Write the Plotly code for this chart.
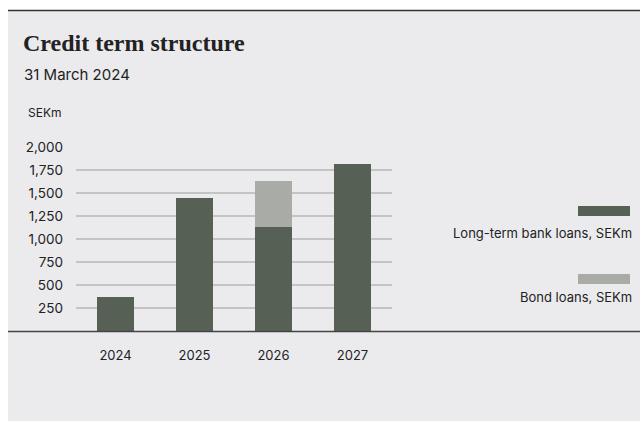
import plotly.graph_objects as go

years = ["2024", "2025", "2026", "2027"]
bank_loans = [375, 1450, 1135, 1820]
bond_loans = [0, 0, 500, 0]
series_names = ["Long-term bank loans, SEKm", "Bond loans, SEKm"]
y_ticks = [250, 500, 750, 1000, 1250, 1500, 1750, 2000]

W, H = 640, 421
DARK = "#566055"
LIGHT = "#a9aba7"
BG = "#ebebee"
FONT = "Inter, Roboto, sans-serif"

def px(x):
    return x / W

def py(y):
    return 1 - y / H

fig = go.Figure()
fig.add_trace(go.Bar(x=years, y=bank_loans, name=series_names[0], marker_color=DARK,
                     marker_line_width=0))
fig.add_trace(go.Bar(x=years, y=bond_loans, name=series_names[1], marker_color=LIGHT,
                     marker_line_width=0))

shapes = [
    dict(type="rect", xref="paper", yref="paper", x0=px(8), x1=1.0, y0=0, y1=py(10),
         fillcolor=BG, line_width=0, layer="below"),
    dict(type="line", xref="paper", yref="paper", x0=px(8), x1=1.0, y0=py(10.5), y1=py(10.5),
         line=dict(color="#333333", width=1.5)),
    dict(type="line", xref="paper", yref="paper", x0=px(8), x1=1.0, y0=py(331.5), y1=py(331.5),
         line=dict(color="#444444", width=1.5)),
    dict(type="rect", xref="paper", yref="paper", x0=px(578), x1=px(630), y0=py(216), y1=py(206),
         fillcolor=DARK, line_width=0),
    dict(type="rect", xref="paper", yref="paper", x0=px(578), x1=px(630), y0=py(284), y1=py(274),
         fillcolor=LIGHT, line_width=0),
]

annotations = [
    dict(text="<b>Credit term structure</b>", x=px(21), y=py(43), xref="paper", yref="paper",
         xanchor="left", yanchor="middle", showarrow=False,
         font=dict(family="Liberation Serif, DejaVu Serif, serif", size=24, color="#222222")),
    dict(text="31 March 2024", x=px(22), y=py(74), xref="paper", yref="paper",
         xanchor="left", yanchor="middle", showarrow=False,
         font=dict(family=FONT, size=15, color="#222222")),
    dict(text="SEKm", x=px(26), y=py(112), xref="paper", yref="paper",
         xanchor="left", yanchor="middle", showarrow=False,
         font=dict(family=FONT, size=12, color="#222222")),
    dict(text=series_names[0], x=px(634), y=py(233), xref="paper", yref="paper",
         xanchor="right", yanchor="middle", showarrow=False,
         font=dict(family=FONT, size=13, color="#222222")),
    dict(text=series_names[1], x=px(634), y=py(297), xref="paper", yref="paper",
         xanchor="right", yanchor="middle", showarrow=False,
         font=dict(family=FONT, size=13, color="#222222")),
]

fig.update_layout(
    width=W, height=H,
    margin=dict(l=0, r=0, t=0, b=0, pad=0),
    paper_bgcolor="white",
    plot_bgcolor="rgba(0,0,0,0)",
    barmode="stack",
    bargap=0.52,
    showlegend=False,
    shapes=shapes,
    annotations=annotations,
    font=dict(family=FONT, size=13, color="#222222"),
    xaxis=dict(domain=[px(76), px(392)], showgrid=False, showline=False, zeroline=False,
               automargin=False,
               ticks="", ticklabelstandoff=14, tickfont=dict(size=13, color="#222222")),
    yaxis=dict(domain=[py(331.5), py(147)], range=[0, 2000], tickvals=y_ticks,
               automargin=False,
               tickformat=",", showgrid=True, gridcolor="#c4c4c4", gridwidth=1.5,
               showline=False, zeroline=False, ticks="", ticklabelstandoff=12,
               tickfont=dict(size=13.5, color="#222222")),
)

fig.write_html("out.html")
